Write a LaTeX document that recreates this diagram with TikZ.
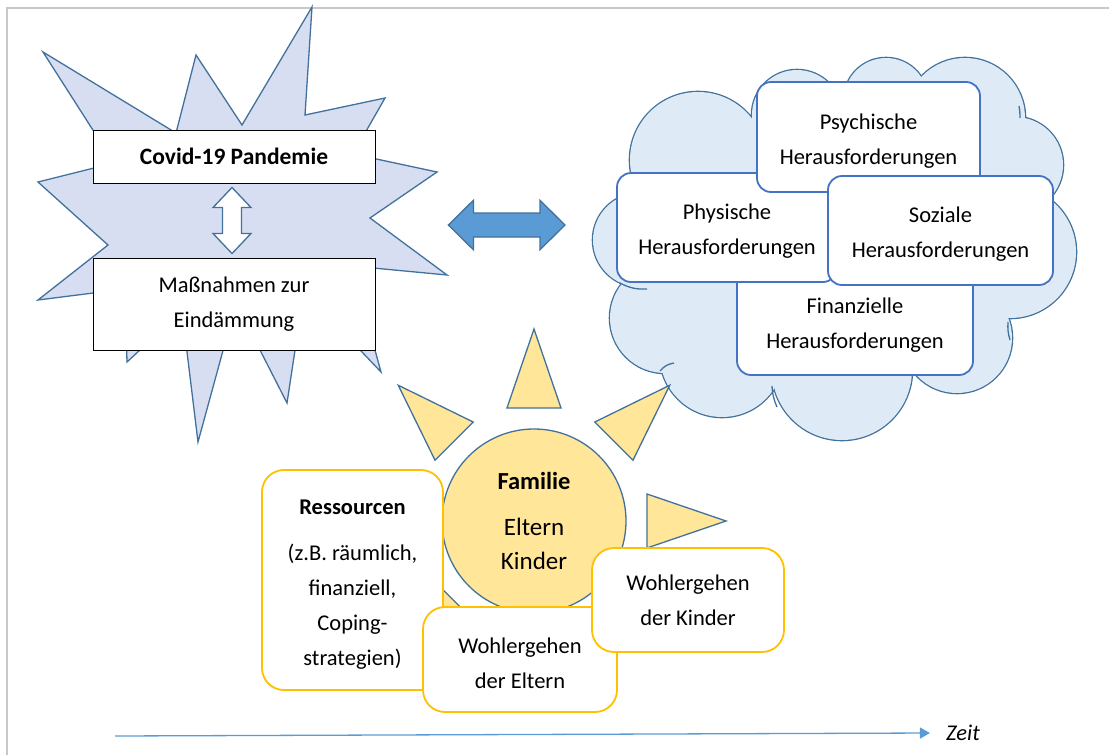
\documentclass[tikz,border=0pt]{standalone}
\usepackage{fontspec}
\setmainfont{Carlito}
\usetikzlibrary{positioning,calc,arrows.meta}

\definecolor{starfill}{HTML}{D7DEF1}
\definecolor{cloudfill}{HTML}{DEEBF7}
\definecolor{shapeline}{HTML}{41719C}
\definecolor{boxblue}{HTML}{4472C4}
\definecolor{boxyellow}{HTML}{FFC000}
\definecolor{sunfill}{HTML}{FFE699}
\definecolor{arrowblue}{HTML}{5B9BD5}
\definecolor{framegray}{HTML}{C8C8C8}

% taller first line, pushes the text a little down in its box
\newcommand{\toppad}{\rule{0pt}{23pt}}

\tikzset{
  txt/.style={font=\fontsize{22.5}{35}\selectfont, align=center, inner sep=0pt},
  plainbox/.style={txt, draw=black, fill=white, line width=0.9pt},
  cloudbox/.style={txt, draw=boxblue, fill=white, line width=1.8pt, rounded corners=14pt},
  famibox/.style={txt, draw=boxyellow, fill=white, line width=1.8pt, rounded corners=22pt},
  blockarrow/.style={draw=shapeline, line width=1.3pt, line join=miter},
  ray/.style={draw=shapeline, fill=sunfill, line width=1.3pt, line join=miter},
  sunnode/.style={circle, draw=shapeline, fill=sunfill, line width=1.3pt, minimum size=184pt,
    inner sep=0pt, align=center, font=\fontsize{25}{34}\selectfont},
  tick/.style={shapeline, line width=1.3pt},
}

\begin{document}
\begin{tikzpicture}[x=1pt,y=-1pt]
\useasboundingbox (0,0) rectangle (1109,755);

% frame
\draw[framegray, line width=1.5pt] (7,755) -- (7,8) -- (1109,8);

% star behind the two boxes
\filldraw[draw=shapeline, fill=starfill, line width=1.3pt, line join=miter]
  (43,52) -- (176,133) -- (196,55) -- (242,125) -- (312,7) -- (305,115) -- (385,98)
  -- (353,154) -- (437,172) -- (370,218) -- (447,275) -- (352,266) -- (381,372)
  -- (304,291) -- (287,403) -- (236,303) -- (198,442) -- (182,311) -- (127,362)
  -- (125,289) -- (38,300) -- (108,245) -- (38,182) -- (114,163) -- cycle;

\node[plainbox, minimum width=282, minimum height=53, font=\fontsize{23.5}{35}\selectfont\bfseries]
  (covid) at (234,156.5) {Covid-19 Pandemie};
\node[plainbox, minimum width=282, minimum height=92] (mass) at (234,304) {Maßnahmen zur\\Eindämmung};

% hollow double arrow
\coordinate (vmid) at ($(covid.south)!0.5!(mass.north)+(-2,0)$);
\filldraw[blockarrow, fill=white, shift={(vmid)}]
  (0,-33) -- (19,-13) -- (9.5,-13) -- (9.5,13) -- (19,13) -- (0,33)
  -- (-19,13) -- (-9.5,13) -- (-9.5,-13) -- (-19,-13) -- cycle;

% blue double arrow
\coordinate (hmid) at (506.7,225);
\filldraw[blockarrow, fill=arrowblue, shift={(hmid)}]
  (-58.3,0) -- (-33.3,-24.7) -- (-33.3,-12) -- (33.3,-12) -- (33.3,-24.7) -- (58.3,0)
  -- (33.3,24.7) -- (33.3,12) -- (-33.3,12) -- (-33.3,24.7) -- cycle;

% cloud
\begin{scope}
  \foreach \cx/\cy/\r in {698/160/68, 797/115/45, 886/100/42, 965/118/60, 1015/165/48,
      1010/252/66, 957/338/55, 842/370/70, 722/355/62, 665/318/55, 640/240/47}
    \draw[shapeline, line width=2.6pt] (\cx,\cy) circle[radius=\r];
  \fill[cloudfill] (698,160) -- (797,115) -- (886,100) -- (965,118) -- (1015,165)
    -- (1010,252) -- (957,338) -- (842,370) -- (722,355) -- (665,318) -- (640,240) -- cycle;
  \foreach \cx/\cy/\r in {698/160/68, 797/115/45, 886/100/42, 965/118/60, 1015/165/48,
      1010/252/66, 957/338/55, 842/370/70, 722/355/62, 665/318/55, 640/240/47}
    \fill[cloudfill] (\cx,\cy) circle[radius=\r];
  % small inner arcs of the cloud
  \draw[tick] (620,283) to[bend right=15] (647,289);
  \draw[tick] (660,371) to[bend left=20] (674,363);
  \draw[tick] (777,407) to[bend left=10] (772,386);
  \draw[tick] (1010,340) to[bend left=10] (1008,322);
  \draw[tick] (1019,106) to[bend left=5] (1020,118);
\end{scope}

\node[cloudbox, minimum width=236, minimum height=108] (fin) at (855,321) {\toppad Finanzielle\\Herausforderungen};
\node[cloudbox, minimum width=220, minimum height=109] (phys) at (727,227.5) {\toppad Physische\\Herausforderungen};
\node[cloudbox, minimum width=223, minimum height=110] (psych) at (868.5,137) {\toppad Psychische\\Herausforderungen};
\node[cloudbox, minimum width=225, minimum height=109] (soz) at (940.5,230.5) {\toppad Soziale\\Herausforderungen};

% sun
\coordinate (sunc) at (534,521);
\foreach \a in {0,135,180,225,270,315}
  \filldraw[ray] ($(sunc)+(\a:192)$) -- ($(sunc)+(\a:113)+(\a+90:27)$)
    -- ($(sunc)+(\a:113)+(\a-90:27)$) -- cycle;
\node[sunnode] (sun) at (sunc) {{\fontsize{24.5}{34}\selectfont\bfseries Familie}\\[12pt]Eltern\\Kinder};

\node[famibox, minimum width=181, minimum height=220] (ress) at (352.5,580)
  {\toppad\textbf{Ressourcen}\\[11pt](z.B. räumlich,\\finanziell,\\Coping-\\strategien)};
\node[famibox, minimum width=194, minimum height=105] (woeltern) at (520,659.5) {\toppad Wohlergehen\\der Eltern};
\node[famibox, minimum width=192, minimum height=104] (wokinder) at (688,600) {Wohlergehen\\der Kinder};

% time line
\coordinate (tstart) at (115,736);
\node[txt, font=\fontsize{22.5}{26}\selectfont\itshape] (zeit) at (963,733) {Zeit};
\draw[arrowblue, line width=1.3pt, -{Triangle[length=10pt,width=11pt]}] (tstart) -- ([xshift=-16pt]zeit.west);
\end{tikzpicture}
\end{document}
